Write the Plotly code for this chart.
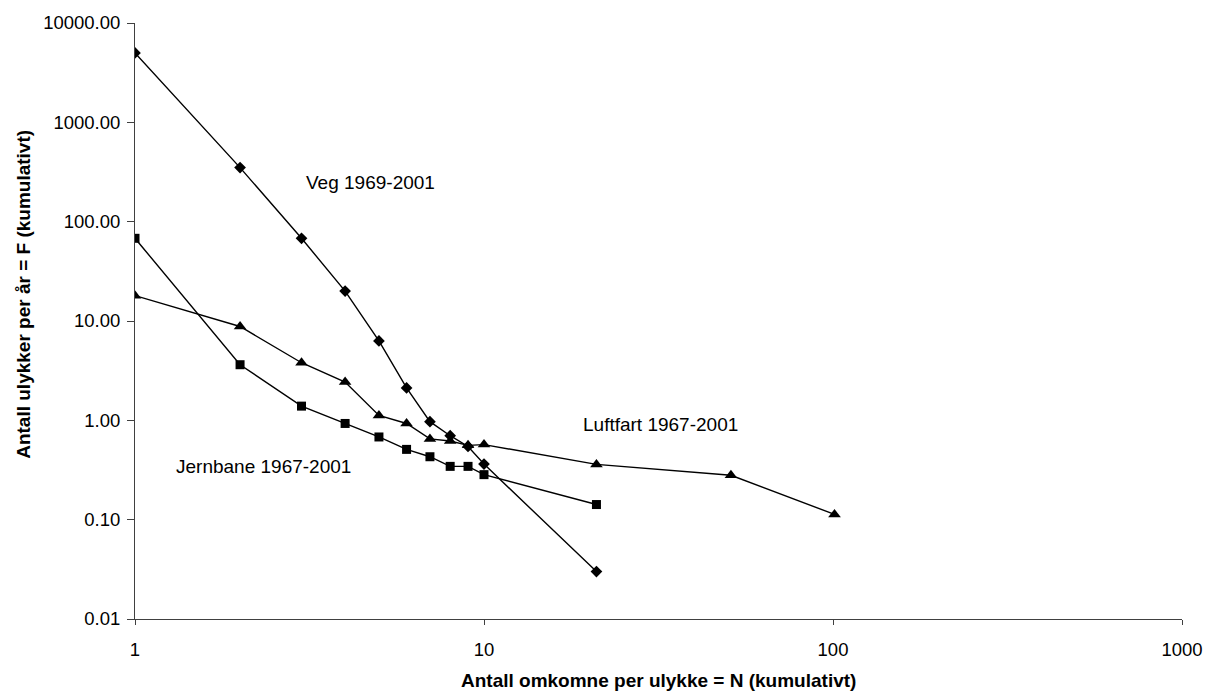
import plotly.graph_objects as go
import math

# Data
veg_n = [1, 2, 3, 4, 5, 6, 7, 8, 9, 10, 21]
veg_f = [5000, 350, 68, 20, 6.3, 2.12, 0.97, 0.70, 0.545, 0.363, 0.030]

jern_n = [1, 2, 3, 4, 5, 6, 7, 8, 9, 10, 21]
jern_f = [68, 3.63, 1.39, 0.93, 0.68, 0.51, 0.43, 0.344, 0.344, 0.284, 0.142]

luft_n = [1, 2, 3, 4, 5, 6, 7, 8, 9, 10, 21, 51, 101]
luft_f = [18, 8.8, 3.8, 2.43, 1.12, 0.93, 0.65, 0.62, 0.56, 0.57, 0.36, 0.28, 0.113]

y_ticks = [0.01, 0.1, 1, 10, 100, 1000, 10000]
y_tick_labels = ["0.01", "0.10", "1.00", "10.00", "100.00", "1000.00", "10000.00"]
x_ticks = [1, 10, 100, 1000]
x_tick_labels = ["1", "10", "100", "1000"]

x_title = "Antall omkomne per ulykke = N (kumulativt)"
y_title = "Antall ulykker per år = F (kumulativt)"

FONT = "Liberation Sans, Arial, sans-serif"
W, H = 1215, 691
L, R, T, B = 135, 22, 20, 72

fig = go.Figure()
line = dict(color="black", width=1.4)
fig.add_trace(go.Scatter(x=veg_n, y=veg_f, mode="lines+markers", name="Veg 1969-2001",
                         line=line, marker=dict(symbol="diamond", size=9, color="black")))
fig.add_trace(go.Scatter(x=jern_n, y=jern_f, mode="lines+markers", name="Jernbane 1967-2001",
                         line=line, marker=dict(symbol="square", size=9, color="black")))
fig.add_trace(go.Scatter(x=luft_n, y=luft_f, mode="lines+markers", name="Luftfart 1967-2001",
                         line=line, marker=dict(symbol="triangle-up", size=11, color="black")))

annots = [
    ("Veg 1969-2001", 4.73, 250),
    ("Jernbane 1967-2001", 2.34, 0.345),
    ("Luftfart 1967-2001", 32.1, 0.90),
]
for text, ax, ay in annots:
    fig.add_annotation(x=math.log10(ax), y=math.log10(ay), text=text, showarrow=False,
                       font=dict(family=FONT, size=19, color="black"))

# axis titles (positioned in paper coordinates)
pw, ph = W - L - R, H - T - B
fig.add_annotation(x=(664 - L) / pw, y=-(681 - (H - B)) / ph, xref="paper", yref="paper",
                   text="<b>" + x_title + "</b>", showarrow=False, yanchor="middle",
                   font=dict(family=FONT, size=19, color="black"))
fig.add_annotation(x=-(L - 22) / pw, y=1 - (293 - T) / ph, xref="paper", yref="paper",
                   text="<b>" + y_title + "</b>", showarrow=False, textangle=-90,
                   xanchor="center", yanchor="middle",
                   font=dict(family=FONT, size=19, color="black"))

fig.update_layout(
    width=W, height=H,
    margin=dict(l=L, r=R, t=T, b=B),
    paper_bgcolor="white", plot_bgcolor="white",
    showlegend=False,
    font=dict(family=FONT, size=18.5, color="black"),
)
fig.update_xaxes(type="log", range=[0, 3], tickvals=x_ticks, ticktext=x_tick_labels,
                 showgrid=False, showline=True, linecolor="#404040", linewidth=1,
                 ticks="outside", ticklen=5, tickcolor="#404040", ticklabelstandoff=9,
                 zeroline=False)
fig.update_yaxes(type="log", range=[-2, 4], tickvals=y_ticks, ticktext=y_tick_labels,
                 showgrid=False, showline=True, linecolor="#404040", linewidth=1,
                 ticks="outside", ticklen=7, tickcolor="#404040", ticklabelstandoff=3,
                 zeroline=False)

fig.write_html("out.html")
